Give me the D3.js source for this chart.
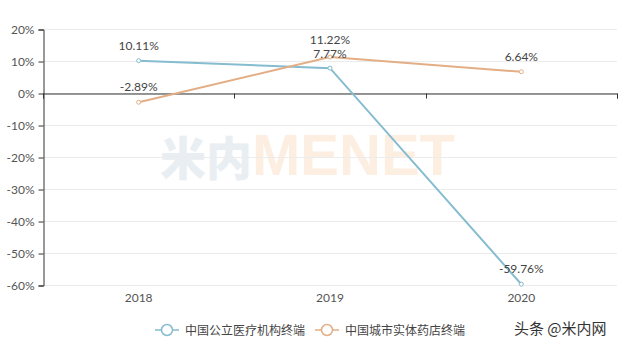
<!DOCTYPE html>
<html>
<head>
<meta charset="utf-8">
<script src="https://cdn.jsdelivr.net/npm/d3@7"></script>
<style>
  body { margin: 0; background: #fff; }
  svg { display: block; font-family: "Noto Sans CJK SC", "Noto Sans", sans-serif; }
</style>
</head>
<body>
<svg id="chart" width="631" height="353"></svg>
<script>
var years = ["2018", "2019", "2020"];
var publicHospital = [10.11, 7.77, -59.76];
var retailPharmacy = [-2.89, 11.22, 6.64];
var seriesNames = ["中国公立医疗机构终端", "中国城市实体药店终端"];
var yTicks = [20, 10, 0, -10, -20, -30, -40, -50, -60];

var colors = ["#86bcd0", "#e3ae86"];

var svg = d3.select("#chart");

var x = d3.scaleBand().domain(years).range([43, 617]);
var y = d3.scaleLinear().domain([-60, 20]).range([285, 29]);

// watermark
var wm = svg.append("text")
    .attr("x", 160).attr("y", 175)
    .attr("font-weight", "bold")
    .attr("font-family", "Arial, 'Liberation Sans', 'Noto Sans CJK SC', sans-serif");
wm.append("tspan").text("米内").attr("fill", "#e9eef2").attr("font-size", 46)
    .attr("font-family", "'Noto Sans CJK SC', sans-serif").attr("font-weight", 900);
wm.append("tspan").text("MENET").attr("fill", "#fdeee2").attr("font-size", 58);

// grid
svg.append("g").selectAll("line")
    .data(yTicks)
    .enter().append("line")
    .attr("x1", 43).attr("x2", 617)
    .attr("y1", function(d) { return y(d) + 0.5; })
    .attr("y2", function(d) { return y(d) + 0.5; })
    .attr("stroke", "#ececec");

// y axis
var yAxis = svg.append("g")
    .attr("transform", "translate(43.5,0.5)")
    .call(d3.axisLeft(y).tickValues(yTicks).tickSize(5).tickPadding(4)
        .tickFormat(function(d) { return d + "%"; }));
yAxis.select(".domain").attr("stroke", "#333");
yAxis.selectAll(".tick line").attr("stroke", "#333");
yAxis.selectAll("text").attr("fill", "#555").attr("font-size", 12)
    .attr("font-family", "Lato, 'Noto Sans', sans-serif");

// x axis at zero
var xAxis = svg.append("g")
    .attr("transform", "translate(0," + (y(0) + 0.5) + ")")
    .call(d3.axisBottom(x).tickSize(0).tickSizeOuter(5).tickFormat(""));
xAxis.select(".domain").attr("stroke", "#333");
var bounds = [43, 43 + x.step(), 43 + 2 * x.step(), 617];
xAxis.selectAll(".bound").data(bounds).enter().append("line")
    .attr("x1", function(d) { return Math.round(d) + 0.5; })
    .attr("x2", function(d) { return Math.round(d) + 0.5; })
    .attr("y1", 0).attr("y2", 5).attr("stroke", "#333");

// x labels at the bottom
svg.append("g").selectAll("text")
    .data(years)
    .enter().append("text")
    .attr("x", function(d) { return x(d) + x.bandwidth() / 2; })
    .attr("y", 302)
    .attr("text-anchor", "middle")
    .attr("fill", "#555").attr("font-size", 12)
    .attr("font-family", "Lato, 'Noto Sans', sans-serif")
    .text(function(d) { return d; });

var line = d3.line()
    .x(function(d, i) { return x(years[i]) + x.bandwidth() / 2; })
    .y(function(d) { return y(d); });

var allSeries = [publicHospital, retailPharmacy];
allSeries.forEach(function(vals, k) {
    var g = svg.append("g");
    g.append("path").datum(vals)
        .attr("d", line)
        .attr("fill", "none")
        .attr("stroke", colors[k])
        .attr("stroke-width", 2);
    g.selectAll("circle").data(vals).enter().append("circle")
        .attr("cx", function(d, i) { return x(years[i]) + x.bandwidth() / 2; })
        .attr("cy", function(d) { return y(d); })
        .attr("r", 2)
        .attr("fill", "#fff")
        .attr("stroke", colors[k]);
});

// data labels (2019 pair pushed apart a little, as in the original)
var labelOffsets = [[-11, -10, -11], [-11, -13, -11]];
allSeries.forEach(function(vals, k) {
    svg.append("g").selectAll("text").data(vals).enter().append("text")
        .attr("x", function(d, i) { return x(years[i]) + x.bandwidth() / 2; })
        .attr("y", function(d, i) { return y(d) + labelOffsets[k][i]; })
        .attr("text-anchor", "middle")
        .attr("fill", "#444").attr("font-size", 12)
        .attr("font-family", "Lato, 'Noto Sans', sans-serif")
        .text(function(d) { return d.toFixed(2) + "%"; });
});

// legend
var legendX = [155, 315];
seriesNames.forEach(function(name, k) {
    var lg = svg.append("g").attr("transform", "translate(" + legendX[k] + ",330)");
    lg.append("line").attr("x1", 0).attr("x2", 24).attr("y1", 0).attr("y2", 0)
        .attr("stroke", colors[k]).attr("stroke-width", 1.5);
    lg.append("circle").attr("cx", 12).attr("cy", 0).attr("r", 5.5)
        .attr("fill", "#fff").attr("stroke", colors[k]).attr("stroke-width", 1.5);
    lg.append("text").attr("x", 30).attr("y", 4.5)
        .attr("font-size", 12).attr("fill", "#444")
        .text(name);
});

// source mark
svg.append("text")
    .attr("x", 514).attr("y", 334)
    .attr("font-size", 15).attr("fill", "#333")
    .text("头条 @米内网");
</script>
</body>
</html>
